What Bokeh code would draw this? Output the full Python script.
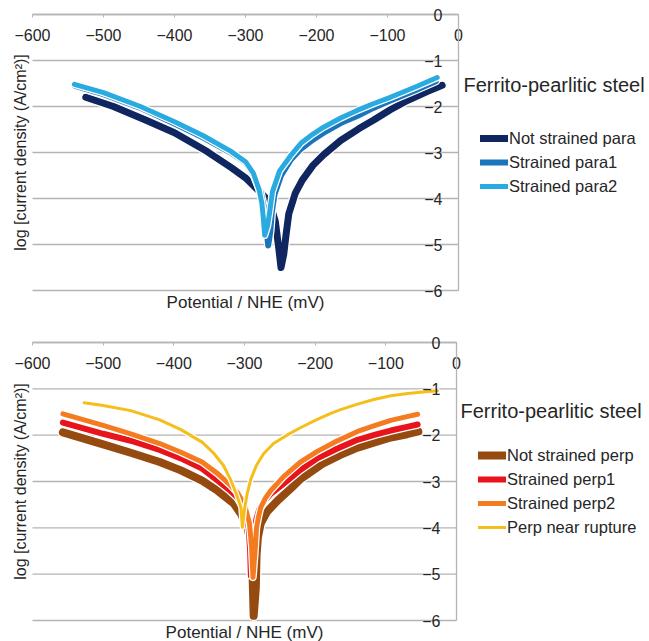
import math
from bokeh.plotting import figure
from bokeh.models import (LinearAxis, FixedTicker, Legend, LegendItem,
                          Label, Range1d, ColumnDataSource)
from bokeh.layouts import column
from bokeh.embed import file_html
from bokeh.resources import INLINE

FONT = "Liberation Sans"
X_TICKS = [-600, -500, -400, -300, -200, -100, 0]
Y_TICKS = [-6, -5, -4, -3, -2, -1, 0]
X_LABEL = "Potential / NHE (mV)"
Y_LABEL = "log [current density (A/cm²)]"
LEGEND_TITLE = "Ferrito-pearlitic steel"

# ---- top panel: parallel direction ----
para_names = ["Not strained para", "Strained para1", "Strained para2"]
para_colors = ["#0f2660", "#1b75bb", "#29abe2"]
para_widths = [7, 6, 5]

not_strained_para_x = [-525, -486, -440, -400, -354, -320, -300, -280, -266, -258, -253, -250,
                       -246, -243, -239, -230, -220, -205, -190, -166, -140, -120, -96, -72, -45, -23]
not_strained_para_y = [-1.80, -2.0, -2.3, -2.57, -2.98, -3.33, -3.55, -3.85, -4.08, -4.5, -5.1, -5.5,
                       -5.2, -4.8, -4.33, -3.89, -3.6, -3.28, -3.05, -2.74, -2.48, -2.3, -2.07, -1.87, -1.68, -1.54]

strained_para1_x = [-540, -500, -448, -400, -360, -321, -300, -288, -279, -274, -271, -268,
                    -265, -263, -259, -250, -237, -222, -205, -190, -166, -142, -120, -96, -60, -32]
strained_para1_y = [-1.55, -1.73, -2.03, -2.37, -2.67, -3.0, -3.22, -3.5, -3.85, -4.2, -4.6, -5.02,
                    -4.7, -4.3, -3.9, -3.5, -3.17, -2.92, -2.72, -2.57, -2.36, -2.2, -2.03, -1.87, -1.64, -1.45]

strained_para2_x = [-541, -500, -448, -400, -360, -321, -300, -289, -281, -277, -275, -273,
                    -269, -266, -262, -252, -237, -222, -205, -190, -166, -142, -120, -96, -60, -30]
strained_para2_y = [-1.52, -1.70, -2.0, -2.33, -2.63, -2.97, -3.2, -3.45, -3.8, -4.1, -4.4, -4.8,
                    -4.6, -4.3, -3.85, -3.4, -3.08, -2.8, -2.6, -2.45, -2.25, -2.08, -1.94, -1.80, -1.57, -1.37]

# ---- bottom panel: perpendicular direction ----
perp_names = ["Not strained perp", "Strained perp1", "Strained perp2", "Perp near rupture"]
perp_colors = ["#954a0f", "#e8141b", "#f47b20", "#f6be1a"]
perp_widths = [8, 6, 5, 3]

not_strained_perp_x = [-557, -500, -461, -420, -390, -360, -338, -315, -305, -296, -291, -289, -287,
                       -284, -283, -281, -277, -268, -253, -235, -221, -190, -165, -140, -115, -93, -70, -54]
not_strained_perp_y = [-1.94, -2.2, -2.38, -2.58, -2.76, -2.98, -3.2, -3.48, -3.7, -4.0, -4.3, -4.8, -5.9,
                       -5.3, -4.6, -4.2, -3.9, -3.65, -3.41, -3.16, -2.95, -2.62, -2.43, -2.27, -2.15, -2.05, -1.98, -1.92]

strained_perp1_x = [-557, -500, -461, -420, -390, -360, -338, -320, -310, -300, -294, -292, -291,
                    -288, -286, -283, -279, -272, -263, -245, -221, -197, -170, -140, -115, -93, -70, -55]
strained_perp1_y = [-1.73, -1.97, -2.12, -2.32, -2.5, -2.72, -2.98, -3.2, -3.34, -3.6, -4.0, -4.5, -5.03,
                    -4.6, -4.1, -3.8, -3.6, -3.42, -3.27, -3.05, -2.75, -2.5, -2.3, -2.1, -1.99, -1.9, -1.82, -1.77]

strained_perp2_x = [-557, -500, -461, -420, -390, -360, -338, -320, -310, -300, -293, -290, -288,
                    -285, -283, -280, -277, -270, -263, -245, -221, -197, -170, -140, -115, -93, -70, -55]
strained_perp2_y = [-1.54, -1.79, -1.97, -2.18, -2.37, -2.58, -2.83, -3.08, -3.24, -3.5, -3.9, -4.4, -5.07,
                    -4.5, -4.0, -3.75, -3.56, -3.35, -3.2, -2.9, -2.58, -2.35, -2.13, -1.92, -1.79, -1.68, -1.6, -1.55]

near_rupture_x = [-527, -500, -461, -420, -390, -360, -343, -330, -320, -312, -305, -303,
                  -300, -296, -291, -283, -273, -259, -240, -221, -200, -178, -164, -140, -117, -93, -69, -48, -27]
near_rupture_y = [-1.3, -1.36, -1.47, -1.67, -1.88, -2.15, -2.4, -2.65, -2.95, -3.25, -3.56, -3.99,
                  -3.6, -3.25, -2.95, -2.65, -2.4, -2.18, -2.0, -1.84, -1.68, -1.53, -1.45, -1.33, -1.23, -1.15, -1.1, -1.07, -1.04]

para_x = [not_strained_para_x, strained_para1_x, strained_para2_x]
para_y = [not_strained_para_y, strained_para1_y, strained_para2_y]
perp_x = [not_strained_perp_x, strained_perp1_x, strained_perp2_x, near_rupture_x]
perp_y = [not_strained_perp_y, strained_perp1_y, strained_perp2_y, near_rupture_y]

GRID = "#b4b4b4"
TXT = "#262626"

# layout (pixels)
FIG_W = 649
PLOT_LEFT = 32
XMIN, XMAX = X_TICKS[0], X_TICKS[-1]
YMIN, YMAX = Y_TICKS[0], Y_TICKS[-1]


def make_panel(names, xs, ys, colors, widths, fig_h, plot_top, plot_w, plot_h,
               legend_loc, title_y, title_dx):
    sx = (XMAX - XMIN) / plot_w
    sy = (YMAX - YMIN) / plot_h
    x0 = XMIN - PLOT_LEFT * sx
    x1 = XMAX + (FIG_W - PLOT_LEFT - plot_w) * sx
    y1 = YMAX + plot_top * sy
    y0 = YMIN - (fig_h - plot_top - plot_h) * sy
    p = figure(width=FIG_W, height=fig_h,
               x_range=Range1d(x0, x1), y_range=Range1d(y0, y1),
               x_axis_type=None, y_axis_type=None,
               toolbar_location=None, output_backend="svg",
               min_border=0, outline_line_color=None)

    # horizontal grid lines between the axis bounds
    p.segment(x0=[XMIN] * len(Y_TICKS), x1=[XMAX] * len(Y_TICKS), y0=Y_TICKS, y1=Y_TICKS,
              line_color=GRID, line_width=1.3)

    xax = LinearAxis(fixed_location=0, bounds=(XMIN, XMAX), ticker=FixedTicker(ticks=X_TICKS),
                     axis_line_color=GRID, axis_line_width=1.3,
                     major_tick_line_color=GRID, major_tick_in=0, major_tick_out=3,
                     minor_tick_line_color=None,
                     major_label_standoff=11,
                     major_label_text_font=FONT, major_label_text_font_size="16px",
                     major_label_text_color=TXT)
    p.add_layout(xax, "below")
    yax = LinearAxis(fixed_location=0, bounds=(YMIN, YMAX), ticker=FixedTicker(ticks=Y_TICKS),
                     axis_line_color=GRID, axis_line_width=1.3,
                     major_tick_line_color=None, major_tick_in=0, major_tick_out=0,
                     minor_tick_line_color=None,
                     major_label_standoff=16,
                     major_label_text_font=FONT, major_label_text_font_size="16px",
                     major_label_text_color=TXT)
    p.add_layout(yax, "left")

    p.add_layout(Label(x=(XMIN + XMAX) / 2, y=YMIN - 12 * sy, text=X_LABEL,
                       text_font=FONT, text_font_size="17px", text_color=TXT,
                       text_align="center", text_baseline="middle"))
    p.add_layout(Label(x=XMIN - 12 * sx, y=(YMIN + YMAX) / 2, text=Y_LABEL, angle=math.pi / 2,
                       text_font=FONT, text_font_size="16px", text_color=TXT,
                       text_align="center", text_baseline="middle"))

    items = []
    for name, x, y, c, w in zip(names, xs, ys, colors, widths):
        src = ColumnDataSource(dict(x=x, y=y))
        p.line("x", "y", source=src, line_color="white", line_width=w + 2.5,
               line_cap="round", line_join="round")
        r = p.line("x", "y", source=src, line_color=c, line_width=w,
                   line_cap="round", line_join="round")
        items.append(LegendItem(label=name, renderers=[r]))

    legend = Legend(items=items, location=legend_loc, orientation="vertical",
                    glyph_width=28, glyph_height=20, label_height=20, spacing=4,
                    padding=0, margin=0, border_line_color=None,
                    background_fill_alpha=0, label_standoff=1,
                    label_text_font=FONT, label_text_font_size="16.5px",
                    label_text_color=TXT)
    p.add_layout(legend)

    p.add_layout(Label(x=XMAX + title_dx * sx, y=title_y, text=LEGEND_TITLE,
                       text_font=FONT, text_font_size="20px", text_color=TXT,
                       text_align="left", text_baseline="middle"))
    return p


p1 = make_panel(para_names, para_x, para_y, para_colors, para_widths,
                316, 14, 426, 276, (480, 120), -1.543, 5)
p2 = make_panel(perp_names, perp_x, perp_y, perp_colors, perp_widths,
                325, 26, 424, 278, (478, 104), -1.468, 4)

layout = column(p1, p2, spacing=0)
open("out.html", "w").write(file_html(layout, INLINE))
